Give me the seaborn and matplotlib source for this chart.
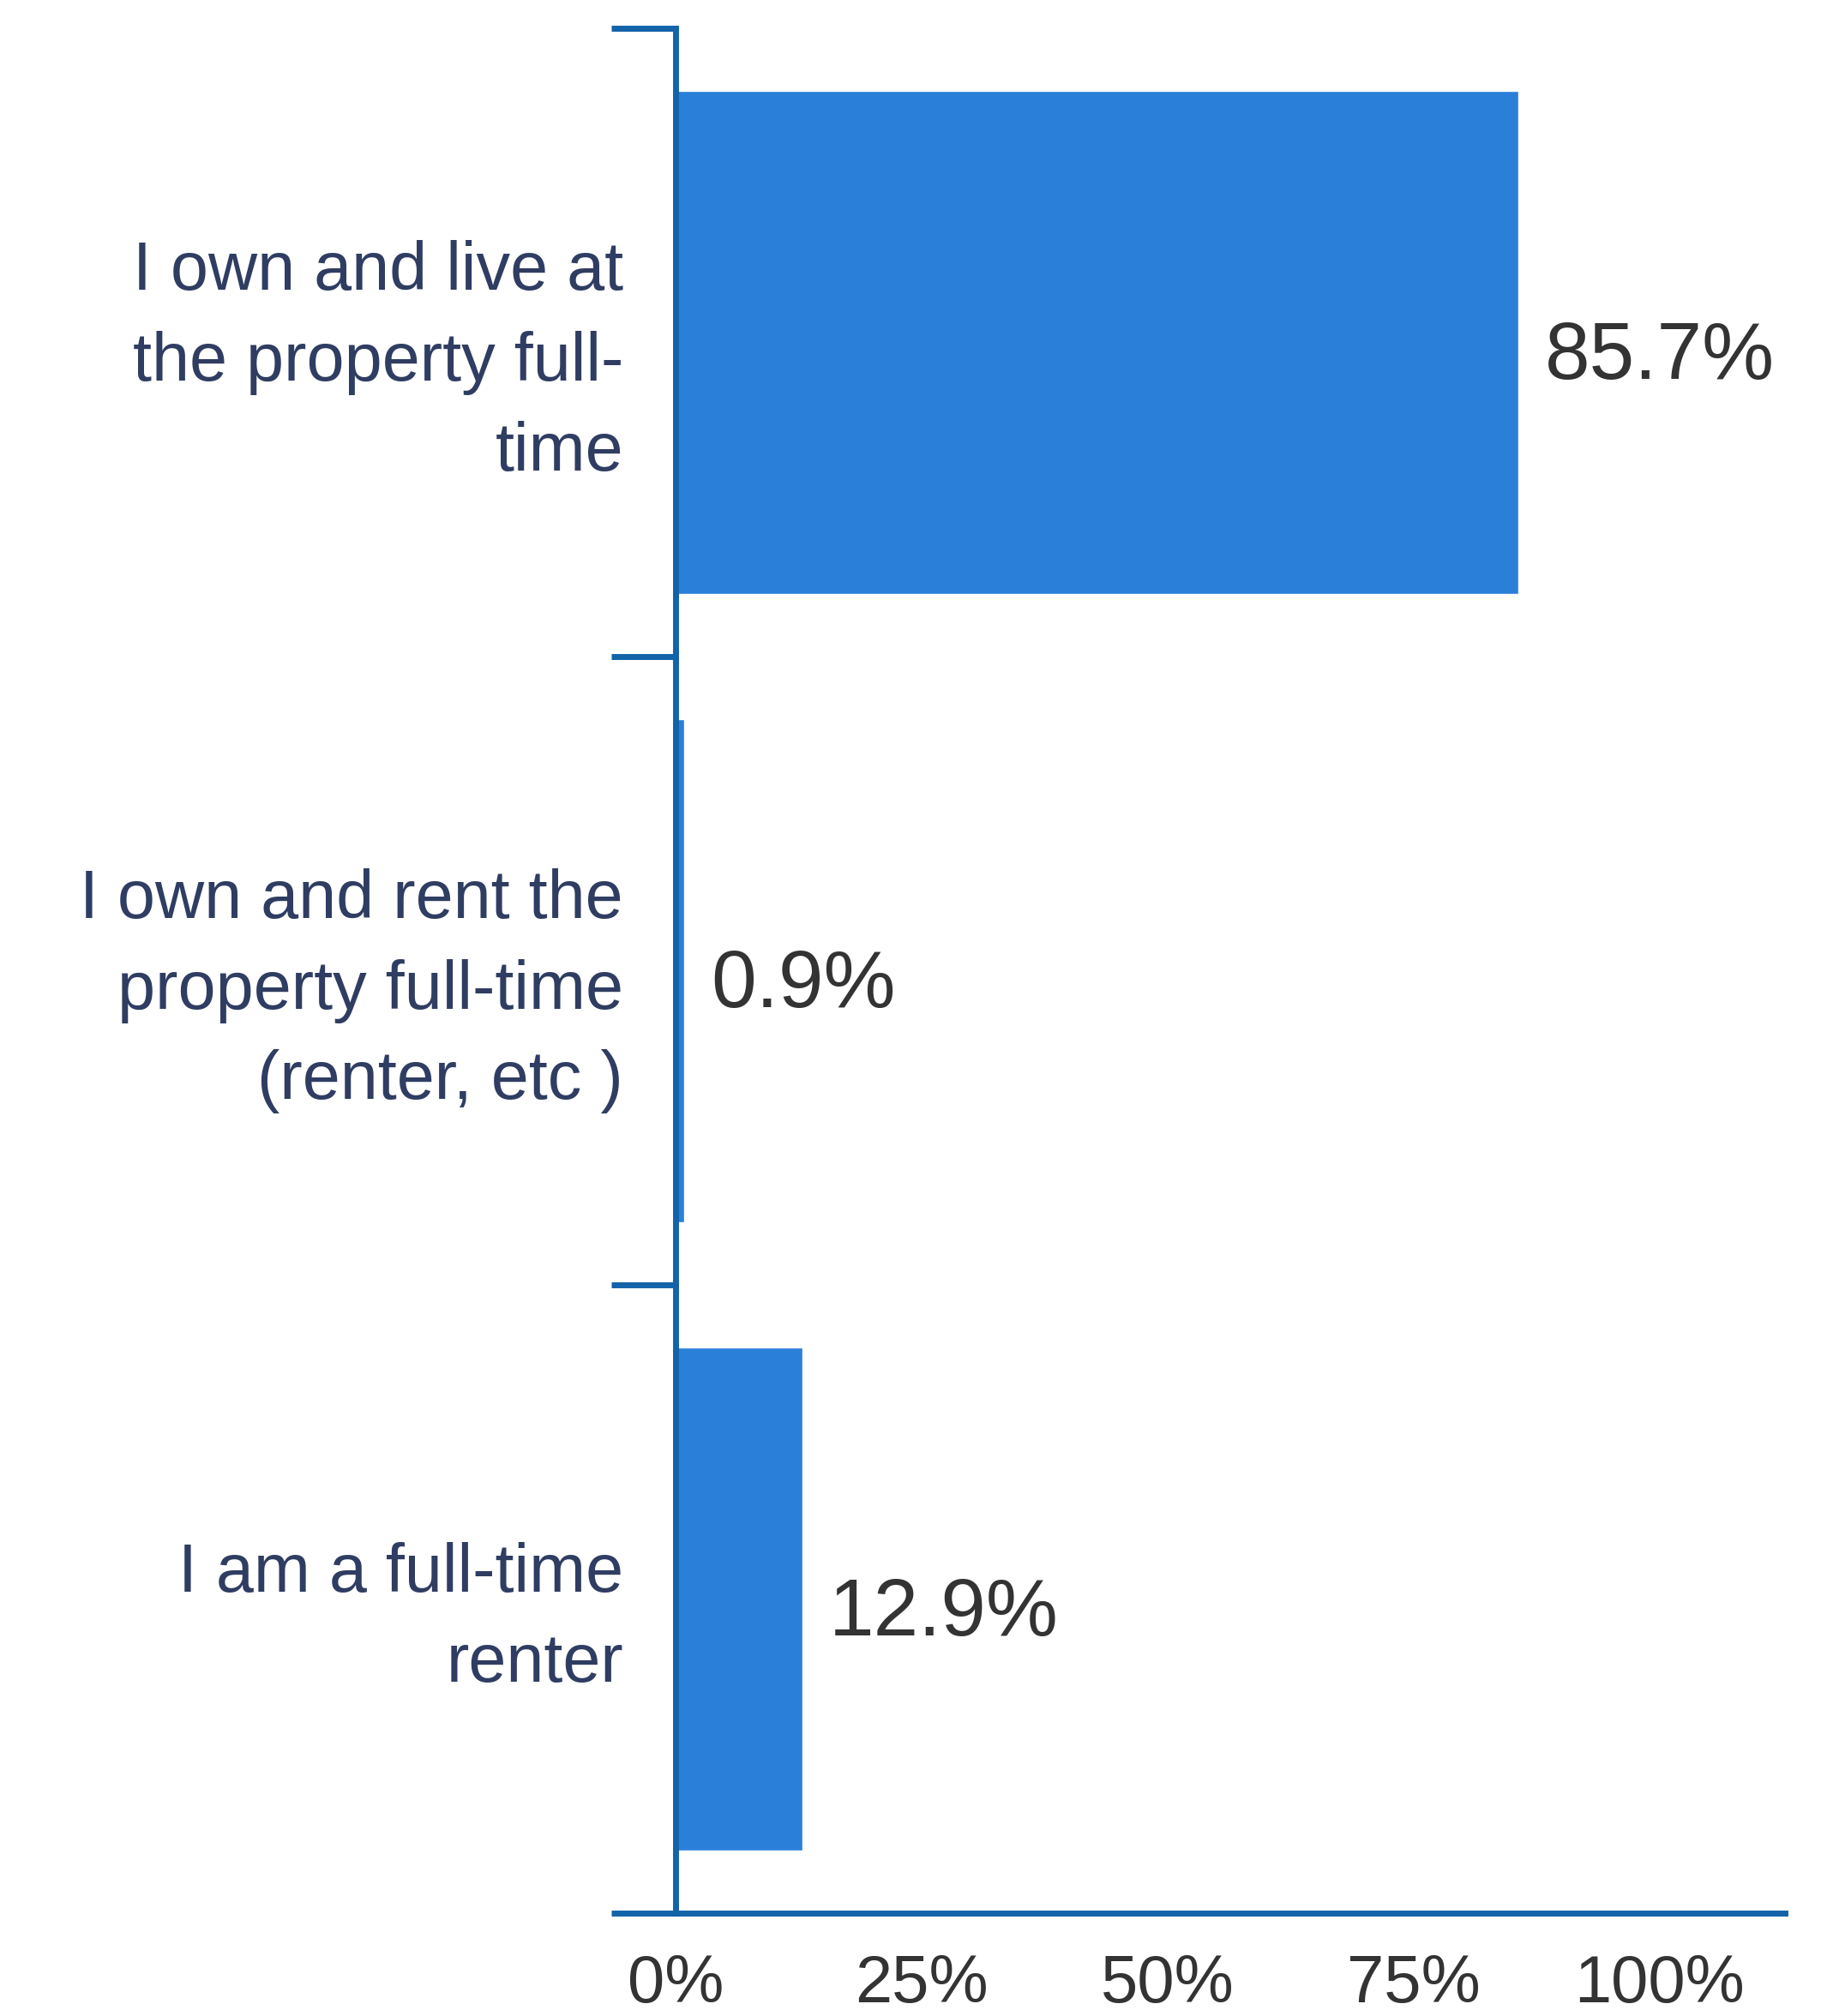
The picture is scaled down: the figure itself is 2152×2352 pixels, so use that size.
import matplotlib
matplotlib.use("Agg")
import matplotlib.pyplot as plt
import seaborn as sns
import pandas as pd

categories = [
    "I own and live at\nthe property full-\ntime",
    "I own and rent the\nproperty full-time\n(renter, etc )",
    "I am a full-time\nrenter",
]
values = [85.7, 0.9, 12.9]
x_ticks = [0, 25, 50, 75, 100]
x_tick_labels = ["0%", "25%", "50%", "75%", "100%"]

sns.set_theme(style="white")
plt.rcParams["font.family"] = ["Liberation Sans", "DejaVu Sans"]

bar_color = "#2a80d9"
axis_color = "#1263a8"
label_color = "#2f3d62"
value_color = "#333333"

df = pd.DataFrame({"category": categories, "value": values})

fig = plt.figure(figsize=(21.52, 23.52), dpi=100)
ax = fig.add_axes([0.3662, 0.0510, 0.6013, 0.9350])

sns.barplot(data=df, x="value", y="category", orient="h", color=bar_color,
            width=0.8, saturation=1.0, ax=ax)

ax.set_xlim(0, 112.8)
ax.set_ylim(2.5, -0.5)
ax.set_xlabel("")
ax.set_ylabel("")

for s in ("top", "right"):
    ax.spines[s].set_visible(False)
for s in ("left", "bottom"):
    ax.spines[s].set_color(axis_color)
    ax.spines[s].set_linewidth(5)
    ax.spines[s].set_zorder(5)

ax.set_xticks(x_ticks)
ax.set_xticklabels(x_tick_labels)
ax.tick_params(axis="x", length=0, pad=34, labelsize=56, labelcolor=value_color)

ax.set_yticks(range(len(categories)))
ax.set_yticklabels(categories, linespacing=1.52)
ax.tick_params(axis="y", which="major", length=0, pad=44, labelsize=57,
               labelcolor=label_color)
ax.set_yticks([-0.5, 0.5, 1.5, 2.5], minor=True)
ax.tick_params(axis="y", which="minor", length=54, width=5, color=axis_color,
               left=True)

for i, v in enumerate(values):
    ax.annotate(f"{v}%", xy=(v, i), xytext=(22, -6), textcoords="offset points",
                va="center_baseline", ha="left", fontsize=68, color=value_color)

fig.savefig("out.png", dpi=100, facecolor="white")
